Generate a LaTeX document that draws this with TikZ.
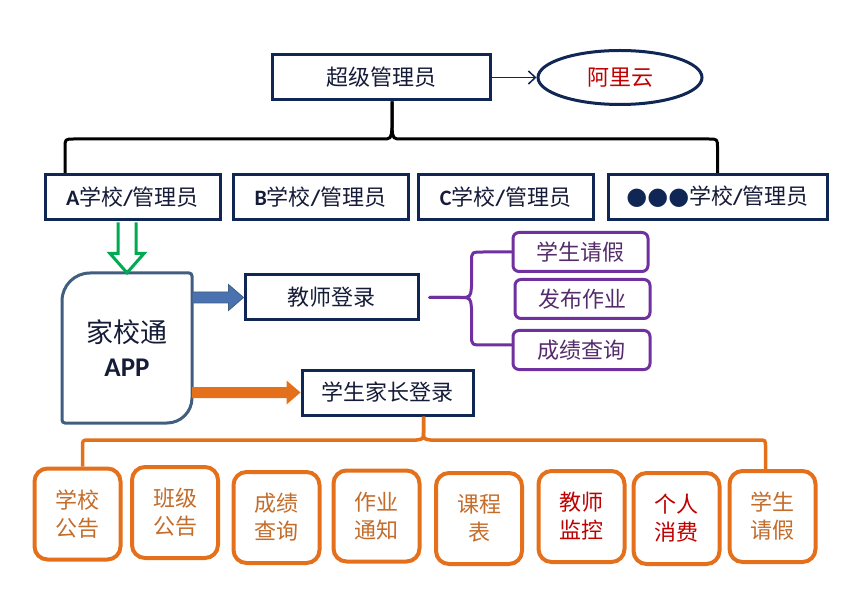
\documentclass[tikz,border=0pt]{standalone}
\usepackage{fontspec}
\setmainfont{Noto Sans CJK SC}
\newfontfamily\latfont{Carlito}
\newfontfamily\dotfont{DejaVu Sans}
\usetikzlibrary{shapes.geometric,arrows.meta,calc}
\definecolor{navy}{RGB}{16,38,84}
\definecolor{navytext}{RGB}{22,28,56}
\definecolor{purp}{RGB}{112,48,160}
\definecolor{purptext}{RGB}{84,44,108}
\definecolor{orng}{RGB}{228,112,28}
\definecolor{ortext}{RGB}{196,108,42}
\definecolor{redtext}{RGB}{192,0,0}
\definecolor{appblue}{RGB}{64,94,128}
\definecolor{arrblue}{RGB}{74,114,176}
\definecolor{grn}{RGB}{0,170,80}
\newcommand{\lb}[1]{{\latfont\bfseries #1}}
\begin{document}
\begin{tikzpicture}[x=1pt,y=-1pt,
  font=\fontsize{22}{28}\selectfont,
  navybox/.style={draw=navy, line width=3pt, fill=white, text=navytext, inner sep=0pt, minimum height=45pt},
  purpbox/.style={draw=purp, line width=3pt, fill=white, rounded corners=6pt, text=purptext, inner sep=0pt, minimum width=135pt, minimum height=39pt},
  orbox/.style={draw=orng, line width=4pt, fill=white, rounded corners=13pt, text=ortext, inner sep=0pt, minimum width=86pt, minimum height=91pt, align=center},
  redt/.style={text=redtext},
  bracek/.style={draw=black, line width=3pt, line join=round},
  bracep/.style={draw=purp, line width=3pt, line join=round, line cap=round},
  braceo/.style={draw=orng, line width=3.5pt, line join=round}
]
\useasboundingbox (0,0) rectangle (859,609);

% top level
\node[navybox, minimum width=218pt] (top) at (381,77.5) {超级管理员};
\node[ellipse, draw=navy, line width=3pt, fill=white, text=redtext, minimum width=164pt, minimum height=54pt, inner sep=0pt] (ali) at (620,77.5) {阿里云};
\draw[navy, line width=1.5pt, -{Straight Barb[length=7pt,width=13pt]}] (top.east) -- (ali.west);

% schools
\node[navybox, minimum width=175pt] (sa) at (132.5,197) {\lb{A}学校\lb{/}管理员};
\node[navybox, minimum width=175pt] (sb) at (320.5,197) {\lb{B}学校\lb{/}管理员};
\node[navybox, minimum width=175pt] (sc) at (505.5,197) {\lb{C}学校\lb{/}管理员};
\node[navybox, minimum width=219pt] (sd) at (717.5,197) {{\dotfont\color{navy}\fontsize{24}{28}\selectfont ●●●}学校\lb{/}管理员};

% black brace
\coordinate (stem) at ([xshift=11pt]top.south);
\coordinate (by) at (0,139);
\coordinate (bl) at ([xshift=-67.5pt]sa.north);
\coordinate (br) at (sd.north);
\draw[bracek] (bl) -- ($(bl|-by)+(0,9)$) .. controls ($(bl|-by)$) .. ($(bl|-by)+(9,0)$)
  -- ($(stem|-by)+(-10,0)$) .. controls ($(stem|-by)+(-1,0)$) .. ($(stem|-by)+(0,-11)$) -- (stem);
\draw[bracek] (stem) -- ($(stem|-by)+(0,-11)$) .. controls ($(stem|-by)+(1,0)$) .. ($(stem|-by)+(10,0)$)
  -- ($(br|-by)+(-9,0)$) .. controls ($(br|-by)$) .. ($(br|-by)+(0,9)$) -- (br);

% app box
\node[align=center, minimum width=130pt, minimum height=150pt, inner sep=0pt, text=navytext, font=\fontsize{27}{34}\selectfont] (app) at (127,348) {家校通\\\lb{APP}};
\draw[draw=appblue, line width=3pt] (62,301) .. controls (62,285.5) and (74.5,273) .. (90,273) -- (189,273)
  .. controls (190.7,273) and (192,274.3) .. (192,276) -- (192,398)
  .. controls (192,411.8) and (180.8,423) .. (167,423) -- (65,423)
  .. controls (63.3,423) and (62,421.7) .. (62,420) -- cycle;

% green hollow arrow
\coordinate (ga) at ($(app.north |- sa.south)+(0,1.5)$);
\draw[draw=grn, fill=white, line width=3pt, line join=miter]
  ($(ga)+(-9,0)$) -- ($(ga)+(-9,31)$) -- ($(ga)+(-17,31)$) -- (app.north) -- ($(ga)+(17,31)$) -- ($(ga)+(9,31)$) -- ($(ga)+(9,0)$);

% teacher / parent
\node[navybox, minimum width=173pt] (teacher) at (331.5,297.5) {教师登录};
\node[navybox, minimum width=171pt] (parent) at (387.5,392.5) {学生家长登录};

% blue arrow
\coordinate (bs) at (app.east |- teacher.west);
\fill[arrblue, draw=appblue, line width=0.8pt]
  ($(bs)+(0,-5.5)$) -- ($(teacher.west)+(-15,-5.5)$) -- ($(teacher.west)+(-15,-13)$) -- (teacher.west)
  -- ($(teacher.west)+(-15,13)$) -- ($(teacher.west)+(-15,5.5)$) -- ($(bs)+(0,5.5)$) -- cycle;

% orange arrow
\coordinate (os) at (app.east |- parent.west);
\fill[orng]
  ($(os)+(0,-5.5)$) -- ($(parent.west)+(-14,-5.5)$) -- ($(parent.west)+(-14,-12)$) -- (parent.west)
  -- ($(parent.west)+(-14,12)$) -- ($(parent.west)+(-14,5.5)$) -- ($(os)+(0,5.5)$) -- cycle;

% purple boxes
\node[purpbox] (p1) at (580.5,252) {学生请假};
\node[purpbox] (p2) at (582.5,299) {发布作业};
\node[purpbox, minimum width=137pt] (p3) at (581.5,350) {成绩查询};

% purple brace
\coordinate (pt) at ([xshift=10pt]teacher.east);
\coordinate (pu) at (p1.west);
\coordinate (pd) at ([yshift=5pt]p3.west);
\draw[bracep] (pt) -- ($(pt)+(30,0)$) .. controls ($(pt)+(41,0)$) .. ($(pt)+(42,-11)$)
  -- ($(pt|-pu)+(42,10)$) .. controls ($(pt|-pu)+(42,0)$) .. ($(pt|-pu)+(54,0)$) -- (pu);
\draw[bracep] (pt) -- ($(pt)+(30,0)$) .. controls ($(pt)+(41,0)$) .. ($(pt)+(42,11)$)
  -- ($(pt|-pd)+(42,-10)$) .. controls ($(pt|-pd)+(42,0)$) .. ($(pt|-pd)+(54,0)$) -- (pd);

% bottom boxes
\node[orbox] (b1) at (77.5,514) {学校\\公告};
\node[orbox] (b2) at (175,512.5) {班级\\公告};
\node[orbox] (b3) at (276.5,517.5) {成绩\\查询};
\node[orbox] (b4) at (376.5,516) {作业\\通知};
\node[orbox] (b5) at (479,518.5) {课程\\表};
\node[orbox, redt] (b6) at (581.5,516.5) {教师\\监控};
\node[orbox, redt] (b7) at (676.5,518.5) {个人\\消费};
\node[orbox] (b8) at (772.5,516.5) {学生\\请假};

% orange brace
\coordinate (os2) at ([xshift=36pt]parent.south);
\coordinate (oy) at (0,440);
\coordinate (ol) at ([xshift=5pt]b1.north);
\coordinate (or) at ([xshift=-7pt]b8.north);
\draw[braceo] (os2) -- ($(os2|-oy)+(0,-8)$) .. controls ($(os2|-oy)+(0,-1)$) .. ($(os2|-oy)+(-7,0)$)
  -- ($(ol|-oy)+(7,0)$) .. controls ($(ol|-oy)$) .. ($(ol|-oy)+(0,7)$) -- (ol);
\draw[braceo] (os2) -- ($(os2|-oy)+(0,-8)$) .. controls ($(os2|-oy)+(0,-1)$) .. ($(os2|-oy)+(7,0)$)
  -- ($(or|-oy)+(-7,0)$) .. controls ($(or|-oy)$) .. ($(or|-oy)+(0,7)$) -- (or);
\end{tikzpicture}
\end{document}
